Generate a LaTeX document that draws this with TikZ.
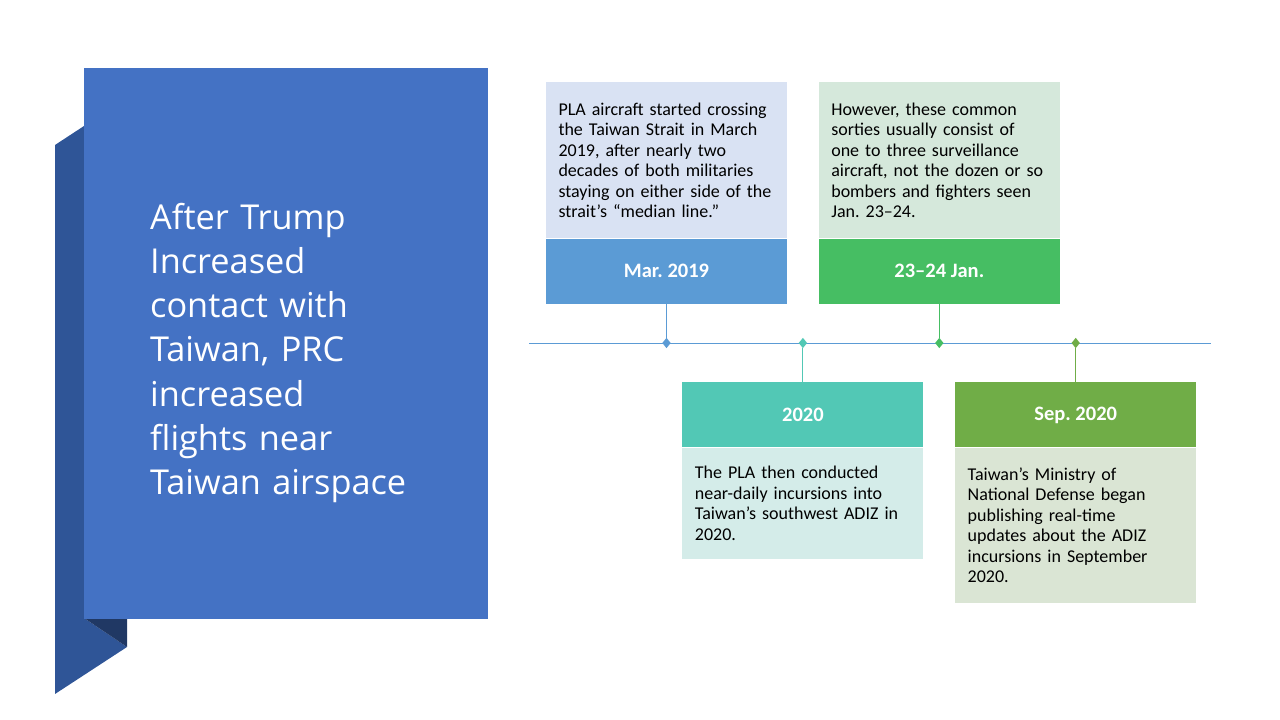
\documentclass[tikz,border=0pt]{standalone}
\usepackage{fontspec}
\setmainfont{Carlito}
\newfontfamily\titlefont{Open Sans}
\usetikzlibrary{positioning,shapes.geometric}
\frenchspacing
\definecolor{slateblue}{HTML}{4472C4}
\definecolor{foldmid}{HTML}{2F5597}
\definecolor{folddark}{HTML}{203864}
\definecolor{axisblue}{HTML}{5B9BD5}
\definecolor{bluehead}{HTML}{5B9BD5}
\definecolor{bluelight}{HTML}{D9E2F3}
\definecolor{tealhead}{HTML}{52C8B5}
\definecolor{teallight}{HTML}{D4ECE9}
\definecolor{greenhead}{HTML}{46BE63}
\definecolor{greenlight}{HTML}{D5E8DB}
\definecolor{olivehead}{HTML}{70AD47}
\definecolor{olivelight}{HTML}{DAE5D4}

\begin{document}
\begin{tikzpicture}
[x=1pt,y=1pt,
banner/.style={rectangle,fill=slateblue,minimum width=404pt,minimum height=551pt,inner sep=0pt},
topic/.style={text width=272pt,align=left,text=white,inner sep=0pt,font=\titlefont\fontsize{34.3}{44.3}\selectfont},
head/.style={rectangle,minimum width=241pt,minimum height=65pt,inner sep=0pt,text=white,font=\bfseries\fontsize{20.5}{24}\selectfont},
note/.style={rectangle,minimum width=241pt,text width=216pt,inner xsep=12.5pt,inner ysep=0pt,align=left,font=\fontsize{18}{20.5}\selectfont},
gem/.style={diamond,minimum width=8.5pt,minimum height=10.5pt,inner sep=0pt},
link/.style={line width=1pt},
node distance=34pt]
\useasboundingbox (0,0) rectangle (1280,720);
\fill[foldmid] (55,575) -- (84,594) -- (84,102) -- (127,73) -- (55,26) -- cycle;
\fill[folddark] (84,102) -- (127,102) -- (127,73) -- cycle;
\node[banner] (panel) at (286,376.5) {};
\node[topic] (title) [anchor=west] at (150,367) {After Trump\\Increased\\contact with\\Taiwan, PRC\\increased\\flights near\\Taiwan airspace};
\coordinate (axis0) at (529,377);
\coordinate (axis1) at (1211,377);
\draw[axisblue,line width=0.9pt] (axis0) -- (axis1);
\node[gem,fill=bluehead] (gem0) at (666.5,377) {};
\node[gem,fill=tealhead] (gem1) [right=127.5pt of gem0] {};
\node[gem,fill=greenhead] (gem2) [right=127.5pt of gem1] {};
\node[gem,fill=olivehead] (gem3) [right=127.5pt of gem2] {};
\node[head,fill=bluehead] (head0) [above=33.75pt of gem0] {Mar. 2019};
\node[head,fill=tealhead] (head1) [below=33.75pt of gem1] {2020};
\node[head,fill=greenhead] (head2) [above=33.75pt of gem2] {23–24 Jan.};
\node[head,fill=olivehead] (head3) [below=33.75pt of gem3] {Sep. 2020};
\node[note,fill=bluelight,minimum height=156pt] (note0) [above=0pt of head0] {PLA aircraft started crossing\\the Taiwan Strait in March\\2019, after nearly two\\decades of both militaries\\staying on either side of the\\strait’s “median line.”};
\node[note,fill=teallight,minimum height=111pt] (note1) [below=0pt of head1] {The PLA then conducted\\near-daily incursions into\\Taiwan’s southwest ADIZ in\\2020.};
\node[note,fill=greenlight,minimum height=156pt] (note2) [above=0pt of head2] {However, these common\\sorties usually consist of\\one to three surveillance\\aircraft, not the dozen or so\\bombers and fighters seen\\Jan. 23–24.};
\node[note,fill=olivelight,minimum height=155pt] (note3) [below=0pt of head3] {Taiwan’s Ministry of\\National Defense began\\publishing real-time\\updates about the ADIZ\\incursions in September\\2020.};
\draw[link,bluehead] (head0) -- (gem0);
\draw[link,tealhead] (head1) -- (gem1);
\draw[link,greenhead] (head2) -- (gem2);
\draw[link,olivehead] (head3) -- (gem3);
\end{tikzpicture}
\end{document}
